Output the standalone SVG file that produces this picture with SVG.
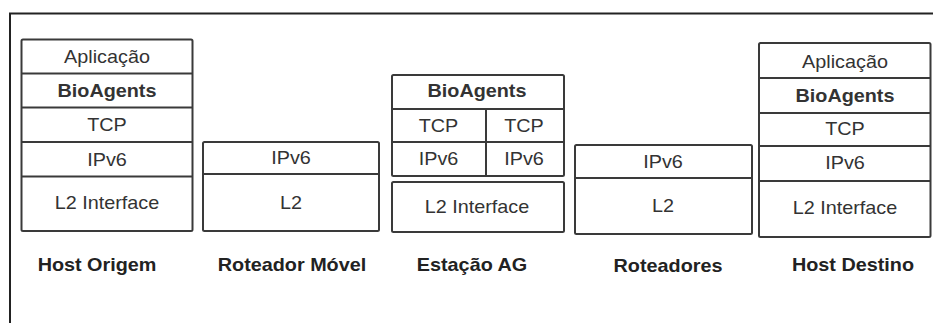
<svg xmlns="http://www.w3.org/2000/svg" width="933" height="323" viewBox="0 0 933 323">
<style>
.frame{fill:none;stroke:#222;stroke-width:2}
.box{fill:#fff;stroke:#3a3a3a;stroke-width:2}
.div{stroke:#3a3a3a;stroke-width:2;fill:none}
text{font-family:"Liberation Sans",Arial,sans-serif;font-size:18px;text-anchor:middle;fill:#333}
.b{font-weight:bold}
.lbl{font-weight:bold;fill:#222}
</style>
<rect width="933" height="323" fill="#fff"/>
<path class="frame" d="M10,323 V13.5 H933"/>

<g id="host-origem">
<rect class="box" x="21.5" y="39.5" width="171" height="191.5" rx="1.5"/>
<path class="div" d="M21.5,73.5 H192.5 M21.5,107.5 H192.5 M21.5,142 H192.5 M21.5,176.5 H192.5"/>
<text transform="translate(107,62.5) scale(1.1 1)">Aplicação</text>
<text class="b" transform="translate(107,96.5) scale(1.1 1)">BioAgents</text>
<text transform="translate(107,130.5) scale(1.1 1)">TCP</text>
<text transform="translate(107,165.5) scale(1.1 1)">IPv6</text>
<text transform="translate(107,208.5) scale(1.1 1)">L2 Interface</text>
<text class="lbl" transform="translate(97,270.5) scale(1.1 1)">Host Origem</text>
</g>

<g id="roteador-movel">
<rect class="box" x="203" y="142" width="176" height="89" rx="1.5"/>
<path class="div" d="M203,174 H379"/>
<text transform="translate(291,163.5) scale(1.1 1)">IPv6</text>
<text transform="translate(291,208.5) scale(1.1 1)">L2</text>
<text class="lbl" transform="translate(292,270.5) scale(1.1 1)">Roteador Móvel</text>
</g>

<g id="estacao-ag">
<rect class="box" x="392" y="75" width="172" height="101" rx="1.5"/>
<path class="div" d="M392,109 H564 M392,142 H564 M486,109 V176"/>
<text class="b" transform="translate(477,96.5) scale(1.1 1)">BioAgents</text>
<text transform="translate(438.5,131.5) scale(1.1 1)">TCP</text>
<text transform="translate(524,131.5) scale(1.1 1)">TCP</text>
<text transform="translate(438.5,164.5) scale(1.1 1)">IPv6</text>
<text transform="translate(524,164.5) scale(1.1 1)">IPv6</text>
<rect class="box" x="392" y="182" width="172" height="50" rx="1.5"/>
<text transform="translate(477,212.5) scale(1.1 1)">L2 Interface</text>
<text class="lbl" transform="translate(472,270.5) scale(1.1 1)">Estação AG</text>
</g>

<g id="roteadores">
<rect class="box" x="575" y="145" width="177" height="89" rx="1.5"/>
<path class="div" d="M575,178 H752"/>
<text transform="translate(663,167.5) scale(1.1 1)">IPv6</text>
<text transform="translate(663,211.5) scale(1.1 1)">L2</text>
<text class="lbl" transform="translate(668,272) scale(1.1 1)">Roteadores</text>
</g>

<g id="host-destino">
<rect class="box" x="759" y="43" width="171.5" height="194" rx="1.5"/>
<path class="div" d="M759,78 H930.5 M759,113 H930.5 M759,146 H930.5 M759,181 H930.5"/>
<text transform="translate(845,67.5) scale(1.1 1)">Aplicação</text>
<text class="b" transform="translate(845,101.5) scale(1.1 1)">BioAgents</text>
<text transform="translate(845,134.5) scale(1.1 1)">TCP</text>
<text transform="translate(845,168.5) scale(1.1 1)">IPv6</text>
<text transform="translate(845,213.5) scale(1.1 1)">L2 Interface</text>
<text class="lbl" transform="translate(853,270.5) scale(1.1 1)">Host Destino</text>
</g>

<g id="connectors"></g>
</svg>
